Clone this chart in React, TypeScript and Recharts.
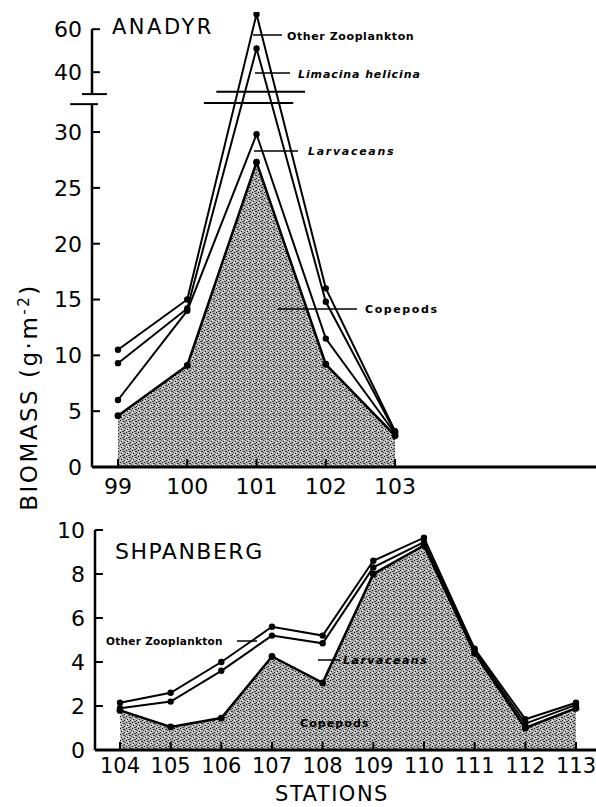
import React from 'react';
import { ComposedChart, Area, Line, XAxis, YAxis, ReferenceLine } from 'recharts';

// Anadyr transect, cumulative totals (each line sits on the ones below it)
const anadyrStations = [99, 100, 101, 102, 103];
const anadyrCopepods = [4.6, 9.1, 27.3, 9.2, 2.8];
const anadyrLarvaceans = [6.0, 14.0, 29.8, 11.5, 3.0];
const anadyrLimacina = [9.3, 14.2, 51, 14.8, 3.1];
const anadyrOther = [10.5, 15.0, 67, 16.0, 3.2];
const anadyrLowTicks = [0, 5, 10, 15, 20, 25, 30];
const anadyrHighTicks = [40, 60];

// Shpanberg transect, cumulative totals
const shpanbergStations = [104, 105, 106, 107, 108, 109, 110, 111, 112, 113];
const shpanbergCopepods = [1.8, 1.05, 1.45, 4.25, 3.05, 8.0, 9.3, 4.4, 1.0, 1.9];
const shpanbergLarvaceans = [1.9, 2.2, 3.6, 5.2, 4.85, 8.3, 9.45, 4.5, 1.2, 2.05];
const shpanbergOther = [2.15, 2.6, 4.0, 5.6, 5.2, 8.6, 9.65, 4.6, 1.4, 2.15];
const shpanbergTicks = [0, 2, 4, 6, 8, 10];

// broken axis: 0-32.5 at full scale, above that a compressed 30-68 segment
const BREAK_LOW = 32.5;
const UPPER_BASE = 29.8;
const UPPER_OFFSET = 33.4;
const UPPER_RATIO = 0.1925;
const brk = (v: number) => (v <= BREAK_LOW ? v : UPPER_OFFSET + (v - UPPER_BASE) * UPPER_RATIO);
const unbrk = (d: number) => (d <= BREAK_LOW ? d : UPPER_BASE + (d - UPPER_OFFSET) / UPPER_RATIO);

const anadyrData = anadyrStations.map((station, i) => ({
  station,
  copepods: anadyrCopepods[i],
  larvaceans: anadyrLarvaceans[i],
  limacina: anadyrLimacina[i],
  other: anadyrOther[i],
}));

const shpanbergData = shpanbergStations.map((station, i) => ({
  station,
  copepods: shpanbergCopepods[i],
  larvaceans: shpanbergLarvaceans[i],
  other: shpanbergOther[i],
}));

const FONT = 'DejaVu Sans';
const tickStyle = { fill: '#000', fontSize: 22, fontFamily: FONT };
const dot = { r: 2.2, fill: '#000', stroke: '#000' };

const Stipple = ({ id }: { id: string }) => (
  <defs>
    <pattern id={id} width="6" height="6" patternUnits="userSpaceOnUse">
      <rect width="6" height="6" fill="#b4b4b4" />
      <rect x="0" y="0" width="1" height="1" fill="#111" />
      <rect x="3" y="1" width="2" height="1" fill="#333" />
      <rect x="1" y="3" width="1" height="1" fill="#111" />
      <rect x="4" y="4" width="1" height="1" fill="#222" />
      <rect x="2" y="5" width="2" height="1" fill="#444" />
      <rect x="5" y="2" width="1" height="1" fill="#555" />
      <rect x="2" y="2" width="1" height="1" fill="#eee" />
      <rect x="0" y="4" width="1" height="1" fill="#f2f2f2" />
    </pattern>
  </defs>
);

const X0 = 98.625;
const seg = (x1: number, y1: number, x2: number, y2: number) => [
  { x: x1, y: y1 },
  { x: x2, y: y2 },
];

const AnadyrChart = () => (
  <ComposedChart width={596} height={510} data={anadyrData} margin={{ top: 12, right: 0, bottom: 3, left: 0 }}>
    <Stipple id="stippleA" />
    <XAxis
      dataKey="station"
      type="number"
      domain={[X0, 105.9]}
      allowDataOverflow
      ticks={anadyrStations}
      interval={0}
      height={40}
      axisLine={{ stroke: '#000', strokeWidth: 3 }}
      tickLine={{ stroke: '#000', strokeWidth: 2 }}
      tickSize={-8}
      tickMargin={19}
      tick={tickStyle}
    />
    <YAxis
      type="number"
      domain={[0, brk(68)]}
      allowDataOverflow
      ticks={[...anadyrLowTicks, ...anadyrHighTicks.map(brk)]}
      tickFormatter={(v: number) => String(Math.round(unbrk(v)))}
      interval={0}
      width={92}
      axisLine={false}
      tickLine={{ stroke: '#000', strokeWidth: 2 }}
      tickSize={-8}
      tickMargin={18}
      tick={tickStyle}
    />
    <Area
      dataKey={(d: any) => brk(d.copepods)}
      type="linear"
      fill="url(#stippleA)"
      fillOpacity={1}
      stroke="#000"
      strokeWidth={2.5}
      dot={dot}
      isAnimationActive={false}
    />
    <Line dataKey={(d: any) => brk(d.larvaceans)} type="linear" stroke="#000" strokeWidth={2} dot={dot} isAnimationActive={false} />
    <Line dataKey={(d: any) => brk(d.limacina)} type="linear" stroke="#000" strokeWidth={2} dot={dot} isAnimationActive={false} />
    <Line dataKey={(d: any) => brk(d.other)} type="linear" stroke="#000" strokeWidth={2} dot={dot} isAnimationActive={false} />
    {/* axis drawn in two pieces around the break */}
    <ReferenceLine segment={seg(X0, 0, X0, BREAK_LOW)} stroke="#000" strokeWidth={2.5} ifOverflow="visible" />
    <ReferenceLine segment={seg(X0, UPPER_OFFSET, X0, brk(60))} stroke="#000" strokeWidth={2.5} ifOverflow="visible" />
    <ReferenceLine segment={seg(98.48, UPPER_OFFSET, 98.84, UPPER_OFFSET)} stroke="#000" strokeWidth={2} ifOverflow="visible" />
    <ReferenceLine segment={seg(98.31, BREAK_LOW, 98.71, BREAK_LOW)} stroke="#000" strokeWidth={2} ifOverflow="visible" />
    <ReferenceLine segment={seg(100.42, 33.6, 101.7, 33.6)} stroke="#000" strokeWidth={2} ifOverflow="visible" />
    <ReferenceLine segment={seg(100.24, 32.6, 101.53, 32.6)} stroke="#000" strokeWidth={2} ifOverflow="visible" />
  </ComposedChart>
);

const ShpanbergChart = () => (
  <ComposedChart width={596} height={300} data={shpanbergData} margin={{ top: 30, right: 0, bottom: 10, left: 0 }}>
    <Stipple id="stippleS" />
    <XAxis
      dataKey="station"
      type="number"
      domain={[103.507, 113.395]}
      allowDataOverflow
      ticks={shpanbergStations}
      interval={0}
      height={40}
      axisLine={{ stroke: '#000', strokeWidth: 3 }}
      tickLine={{ stroke: '#000', strokeWidth: 2 }}
      tickSize={-8}
      tickMargin={16}
      tick={{ ...tickStyle, fontSize: 21 }}
    />
    <YAxis
      type="number"
      domain={[0, 10]}
      allowDataOverflow
      ticks={shpanbergTicks}
      interval={0}
      width={95}
      axisLine={{ stroke: '#000', strokeWidth: 2.5 }}
      tickLine={{ stroke: '#000', strokeWidth: 2 }}
      tickSize={-8}
      tickMargin={18}
      tick={tickStyle}
    />
    <Area
      dataKey="copepods"
      type="linear"
      fill="url(#stippleS)"
      fillOpacity={1}
      stroke="#000"
      strokeWidth={2.5}
      dot={dot}
      isAnimationActive={false}
    />
    <Line dataKey="larvaceans" type="linear" stroke="#000" strokeWidth={2} dot={dot} isAnimationActive={false} />
    <Line dataKey="other" type="linear" stroke="#000" strokeWidth={2} dot={dot} isAnimationActive={false} />
  </ComposedChart>
);

const label = { fontFamily: FONT, fontSize: 11, fontWeight: 'bold' as const, fill: '#000' };

export default function App() {
  return (
    <div style={{ position: 'absolute', left: 0, top: 0, width: 596, height: 807, background: '#fff', overflow: 'hidden' }}>
      <div style={{ position: 'absolute', left: 0, top: 0 }}>
        <AnadyrChart />
      </div>
      <div style={{ position: 'absolute', left: 0, top: 500 }}>
        <ShpanbergChart />
      </div>
      <svg width={596} height={807} style={{ position: 'absolute', left: 0, top: 0, pointerEvents: 'none' }}>
        <text x={112} y={34} fontFamily={FONT} fontSize={21} letterSpacing={2.5}>ANADYR</text>
        <text x={115} y={559} fontFamily={FONT} fontSize={22} letterSpacing={1.5}>SHPANBERG</text>

        <line x1={253} y1={35} x2={282} y2={35} stroke="#000" strokeWidth={1.5} />
        <text x={287} y={40} {...label} letterSpacing={0.6}>Other Zooplankton</text>
        <line x1={255} y1={73} x2={290} y2={73} stroke="#000" strokeWidth={1.5} />
        <text x={298} y={78} {...label} fontStyle="italic" letterSpacing={0.9}>Limacina helicina</text>
        <line x1={254} y1={151} x2={298} y2={151} stroke="#000" strokeWidth={1.5} />
        <text x={308} y={155} {...label} fontStyle="italic" letterSpacing={1.7}>Larvaceans</text>
        <line x1={278} y1={309} x2={357} y2={309} stroke="#000" strokeWidth={1.5} />
        <text x={365} y={313} {...label} letterSpacing={1.6}>Copepods</text>

        <text x={106} y={645} {...label} fontSize={10.5} letterSpacing={0.3}>Other Zooplankton</text>
        <line x1={237} y1={641} x2={257} y2={641} stroke="#000" strokeWidth={1.5} />
        <line x1={318} y1={660} x2={340} y2={660} stroke="#000" strokeWidth={1.5} />
        <text x={343} y={664} {...label} fontStyle="italic" letterSpacing={1.5}>Larvaceans</text>
        <text x={300} y={727} {...label} letterSpacing={1.1}>Copepods</text>

        <text
          transform="rotate(-90)"
          x={-397}
          y={37}
          textAnchor="middle"
          fontFamily={FONT}
          fontSize={23}
          letterSpacing={2.5}
        >
          BIOMASS (g·m<tspan dy={-8} fontSize={15}>-2</tspan><tspan dy={8}>)</tspan>
        </text>
        <text x={332} y={801} textAnchor="middle" fontFamily={FONT} fontSize={21} letterSpacing={1.5}>STATIONS</text>
      </svg>
    </div>
  );
}
